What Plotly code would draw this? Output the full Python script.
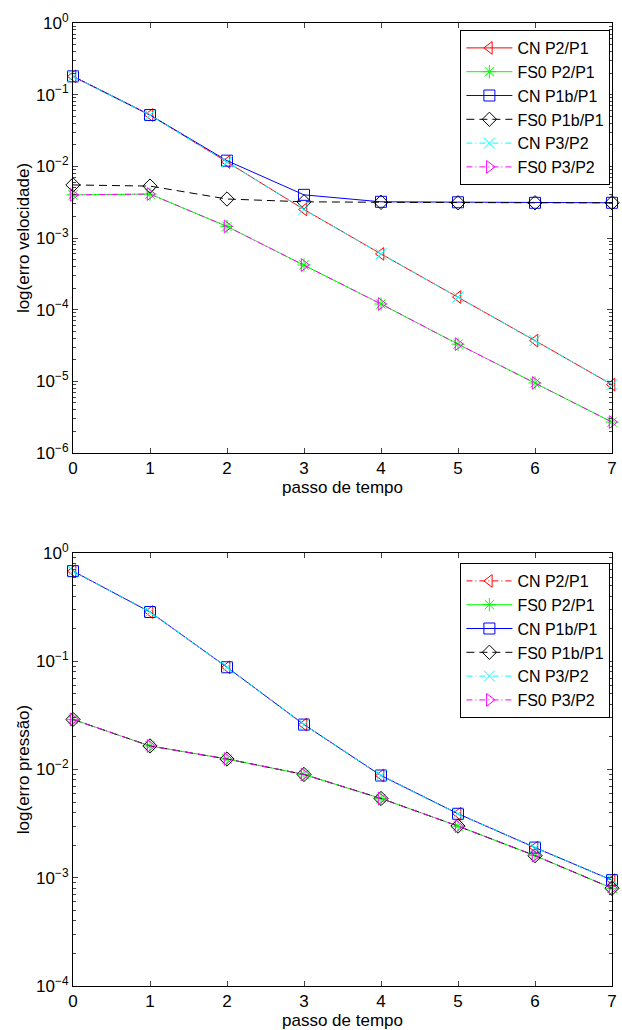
import plotly.graph_objects as go

steps = [0, 1, 2, 3, 4, 5, 6, 7]

# velocity errors
vel_cn_p2p1 = [0.18, 0.052, 0.0115, 0.0025, 6.0e-4, 1.5e-4, 3.7e-5, 9.0e-6]
vel_fs0_p2p1 = [4.0e-3, 4.1e-3, 1.45e-3, 4.2e-4, 1.2e-4, 3.3e-5, 9.5e-6, 2.7e-6]
vel_cn_p1bp1 = [0.18, 0.052, 0.012, 4.0e-3, 3.2e-3, 3.15e-3, 3.1e-3, 3.1e-3]
vel_fs0_p1bp1 = [5.5e-3, 5.3e-3, 3.5e-3, 3.2e-3, 3.15e-3, 3.1e-3, 3.1e-3, 3.1e-3]
vel_cn_p3p2 = [0.18, 0.052, 0.0115, 0.0025, 6.0e-4, 1.5e-4, 3.7e-5, 9.0e-6]
vel_fs0_p3p2 = [4.0e-3, 4.1e-3, 1.45e-3, 4.2e-4, 1.2e-4, 3.3e-5, 9.5e-6, 2.7e-6]

# pressure errors
pre_cn_p2p1 = [0.68, 0.285, 0.088, 0.026, 0.0088, 0.0039, 0.0019, 9.5e-4]
pre_fs0_p2p1 = [0.029, 0.0165, 0.0125, 0.009, 0.0054, 0.003, 0.0016, 8.0e-4]
pre_cn_p1bp1 = [0.68, 0.285, 0.088, 0.026, 0.0088, 0.0039, 0.0019, 9.5e-4]
pre_fs0_p1bp1 = [0.029, 0.0165, 0.0125, 0.009, 0.0054, 0.003, 0.0016, 8.0e-4]
pre_cn_p3p2 = [0.68, 0.285, 0.088, 0.026, 0.0088, 0.0039, 0.0019, 9.5e-4]
pre_fs0_p3p2 = [0.029, 0.0165, 0.0125, 0.009, 0.0054, 0.003, 0.0016, 8.0e-4]

names = ["CN P2/P1", "FS0 P2/P1", "CN P1b/P1", "FS0 P1b/P1", "CN P3/P2", "FS0 P3/P2"]
colors = ["#ff0000", "#00ff00", "#0000ff", "#000000", "#00ffff", "#ff00ff"]
symbols = ["triangle-left-open", "asterisk-open", "square-open", "diamond-open",
           "x-thin-open", "triangle-right-open"]
DASH = "8px,5px"
DASHDOT = "6px,3px,1px,3px"
top_dash = ["solid", "solid", "solid", DASH, DASHDOT, DASHDOT]
bot_dash = [DASHDOT, "solid", "solid", DASH, DASHDOT, DASHDOT]

vel = [vel_cn_p2p1, vel_fs0_p2p1, vel_cn_p1bp1, vel_fs0_p1bp1, vel_cn_p3p2, vel_fs0_p3p2]
pre = [pre_cn_p2p1, pre_fs0_p2p1, pre_cn_p1bp1, pre_fs0_p1bp1, pre_cn_p3p2, pre_fs0_p3p2]

fig = go.Figure()
for i in range(6):
    fig.add_trace(go.Scatter(
        x=steps, y=vel[i], name=names[i], mode="lines+markers",
        line=dict(color=colors[i], width=1, dash=top_dash[i]),
        marker=dict(symbol=symbols[i], size=11, color=colors[i],
                    line=dict(width=1, color=colors[i])),
        cliponaxis=False, xaxis="x", yaxis="y", legend="legend"))
for i in range(6):
    fig.add_trace(go.Scatter(
        x=steps, y=pre[i], name=names[i], mode="lines+markers",
        line=dict(color=colors[i], width=1, dash=bot_dash[i]),
        marker=dict(symbol=symbols[i], size=11, color=colors[i],
                    line=dict(width=1, color=colors[i])),
        cliponaxis=False, xaxis="x2", yaxis="y2", legend="legend2"))

FAM = "Liberation Sans, Arial, sans-serif"
font = dict(family=FAM, size=17, color="black")
lfont = dict(family=FAM, size=16, color="black")

top_vals = [10.0 ** e for e in range(-6, 1)]
top_text = ["10<sup>−%d</sup>" % (-e) if e < 0 else "10<sup>0</sup>" for e in range(-6, 1)]
bot_vals = [10.0 ** e for e in range(-4, 1)]
bot_text = ["10<sup>−%d</sup>" % (-e) if e < 0 else "10<sup>0</sup>" for e in range(-4, 1)]

xcommon = dict(range=[0, 7], tickvals=steps, ticks="inside", ticklen=5,
               showline=True, linecolor="black", linewidth=1, mirror="ticks",
               showgrid=False, zeroline=False, tickfont=font,
               title=dict(text="passo de tempo", font=font, standoff=0))
ycommon = dict(type="log", ticks="inside", ticklen=5, showline=True,
               linecolor="black", linewidth=1, mirror="ticks", showgrid=False,
               zeroline=False, tickfont=font,
               minor=dict(ticks="inside", ticklen=3, dtick="D1", showgrid=False))

H = 1030
top_m = 23
bot_m = 44
ph = H - top_m - bot_m
top_lo = (986 - 453) / ph
bot_hi = (986 - 553) / ph

fig.update_layout(
    width=622, height=H,
    margin=dict(l=73, r=5, t=top_m, b=bot_m),
    paper_bgcolor="white", plot_bgcolor="white",
    font=font,
    xaxis=dict(domain=[0, 1], anchor="y", **xcommon),
    xaxis2=dict(domain=[0, 1], anchor="y2", **xcommon),
    yaxis=dict(domain=[top_lo, 1], anchor="x", range=[-6, 0],
               tickvals=top_vals, ticktext=top_text,
               title=dict(text="log(erro velocidade)", font=font, standoff=2),
               **ycommon),
    yaxis2=dict(domain=[0, bot_hi], anchor="x2", range=[-4, 0],
                tickvals=bot_vals, ticktext=bot_text,
                title=dict(text="log(erro pressão)", font=font, standoff=2),
                **ycommon),
    legend=dict(x=0.997, y=1 - 7 / ph, xanchor="right", yanchor="top",
                bordercolor="black", borderwidth=1, bgcolor="white",
                font=lfont, tracegroupgap=0, itemwidth=46),
    legend2=dict(x=0.997, y=bot_hi - 10 / ph, xanchor="right", yanchor="top",
                 bordercolor="black", borderwidth=1, bgcolor="white",
                 font=lfont, tracegroupgap=0, itemwidth=46),
    showlegend=True,
)

fig.write_html("out.html")
